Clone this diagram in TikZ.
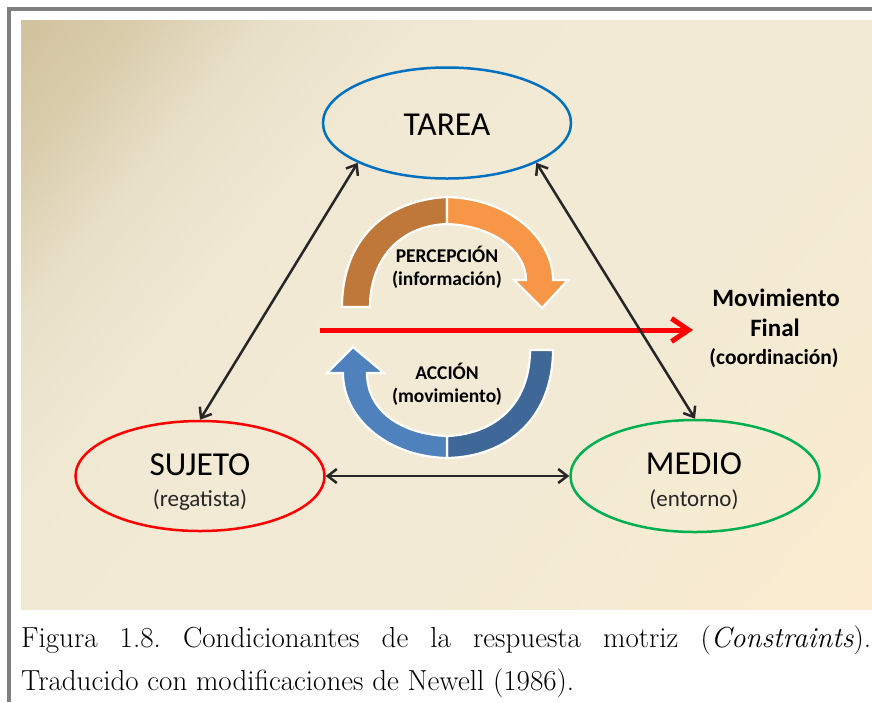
\documentclass[tikz,border=0pt]{standalone}
\usepackage{fontspec}
\newfontfamily\calib{Carlito}
\usetikzlibrary{arrows.meta,shapes.geometric}
\definecolor{bgA}{HTML}{D0C19B}
\definecolor{bgA2}{HTML}{D9CDAC}
\definecolor{bgB}{HTML}{E9E0C9}
\definecolor{bgB2}{HTML}{F0E8D3}
\definecolor{bgC}{HTML}{F2EAD5}
\definecolor{bgD}{HTML}{FBECD0}
\definecolor{frameg}{HTML}{7F7F7F}
\definecolor{tblue}{HTML}{0070C0}
\definecolor{sred}{HTML}{FF0000}
\definecolor{mgreen}{HTML}{00B050}
\definecolor{darkline}{HTML}{262626}
\definecolor{brownband}{HTML}{C0773A}
\definecolor{orangeband}{HTML}{F79646}
\definecolor{darkblueband}{HTML}{3F6898}
\definecolor{lightblueband}{HTML}{4F81BD}
\pgfdeclarehorizontalshading{bgshade}{100bp}{color(0bp)=(bgA); color(14bp)=(bgA); color(21bp)=(bgA2); color(28bp)=(bgB); color(36bp)=(bgB2); color(46bp)=(bgC); color(60bp)=(bgC); color(85bp)=(bgD); color(100bp)=(bgD)}
\tikzset{
  ell/.style={ellipse, line width=2.5pt, inner sep=0pt},
  bigtxt/.style={font=\calib\fontsize{33.5}{40}\selectfont, anchor=base, inner sep=0pt},
  subtxt/.style={font=\calib\fontsize{23}{28}\selectfont, anchor=base, inner sep=0pt, text=darkline},
  midtxt/.style={font=\calib\bfseries\fontsize{19.5}{24}\selectfont, anchor=base, inner sep=0pt},
  fintxt/.style={font=\calib\bfseries\fontsize{25}{30}\selectfont, anchor=base, inner sep=0pt},
  conn/.style={draw=darkline, line width=2.5pt, {Straight Barb[length=9pt,width=14pt]}-{Straight Barb[length=9pt,width=14pt]}},
  redarrow/.style={draw=sred, line width=5pt, -{Straight Barb[length=17pt,width=23pt]}},
  band/.style={draw=white, line width=2.2pt},
  captxt/.style={font=\fontsize{29}{43}\selectfont, anchor=base west, inner sep=0pt}
}
\begin{document}
\begin{tikzpicture}[x=1pt,y=-1pt]
\useasboundingbox (0,0) rectangle (872,702);
% frame and background
\fill[white] (0,0) rectangle (872,702);
\fill[frameg] (7,7) rectangle (872,11);
\fill[frameg] (7,7) rectangle (11,702);
\shade[shading=bgshade, shading angle=-40] (21,20) rectangle (872,609);
% ellipses
\node[ell, draw=tblue, minimum width=248pt, minimum height=111pt] (tarea) at (447,123) {};
\node[ell, draw=sred, minimum width=249pt, minimum height=110pt] (sujeto) at (200,476) {};
\node[ell, draw=mgreen, minimum width=249pt, minimum height=112pt] (medio) at (695,476) {};
\node[bigtxt] (tareatxt) at (447,135) {TAREA};
\node[bigtxt] (sujetotxt) at (200,475) {SUJETO};
\node[subtxt] (sujetosub) at (200,506) {(regatista)};
\node[bigtxt] (mediotxt) at (694,474) {MEDIO};
\node[subtxt] (mediosub) at (694,506) {(entorno)};
% curved bands
\filldraw[band, fill=brownband] (342,307) .. controls (342,240) and (385,200) .. (447,197) -- (447,224) .. controls (397,226) and (370,262) .. (370,307) -- cycle;
\filldraw[band, fill=orangeband] (447,197) .. controls (512,199) and (553,240) .. (553,280) -- (568,280) -- (542,308) -- (514,280) -- (526,280) .. controls (526,252) and (495,226) .. (447,224) -- cycle;
\filldraw[band, fill=darkblueband] (553,350) .. controls (553,418) and (507,457) .. (447,458) -- (447,436) .. controls (497,434) and (530,402) .. (530,350) -- cycle;
\filldraw[band, fill=lightblueband] (447,458) .. controls (390,457) and (343,420) .. (343,373) -- (327,373) -- (353,347) -- (384,373) -- (367,373) .. controls (367,410) and (400,434) .. (447,436) -- cycle;
\node[midtxt] (percep) at (447,262) {PERCEPCIÓN};
\node[midtxt] (info) at (447,285.5) {(información)};
\node[midtxt] (accion) at (447,379) {ACCIÓN};
\node[midtxt] (movim) at (447,402.5) {(movimiento)};
% red arrow
\coordinate (redstart) at (320,330);
\coordinate (redend) at (693,330);
\draw[redarrow] (redstart) -- (redend);
\node[fintxt] (movfin1) at (776,306.5) {Movimiento};
\node[fintxt] (movfin2) at (775,336.5) {Final};
\node[fintxt, font=\calib\bfseries\fontsize{21.5}{26}\selectfont] (movfin3) at (774,364) {(coordinación)};
% connectors
\draw[conn] (tarea.204) -- (sujeto.north);
\draw[conn] (tarea.336) -- (medio.north);
\draw[conn] (sujeto.east) -- (medio.west);
% caption
\frenchspacing
\node[captxt] (cap1) at (21,647) {\makebox[850pt][s]{Figura 1.8. Condicionantes de la respuesta motriz (\textit{Constraints}).}};
\node[captxt] (cap2) at (21,690) {Traducido con modificaciones de Newell (1986).};
\end{tikzpicture}
\end{document}
